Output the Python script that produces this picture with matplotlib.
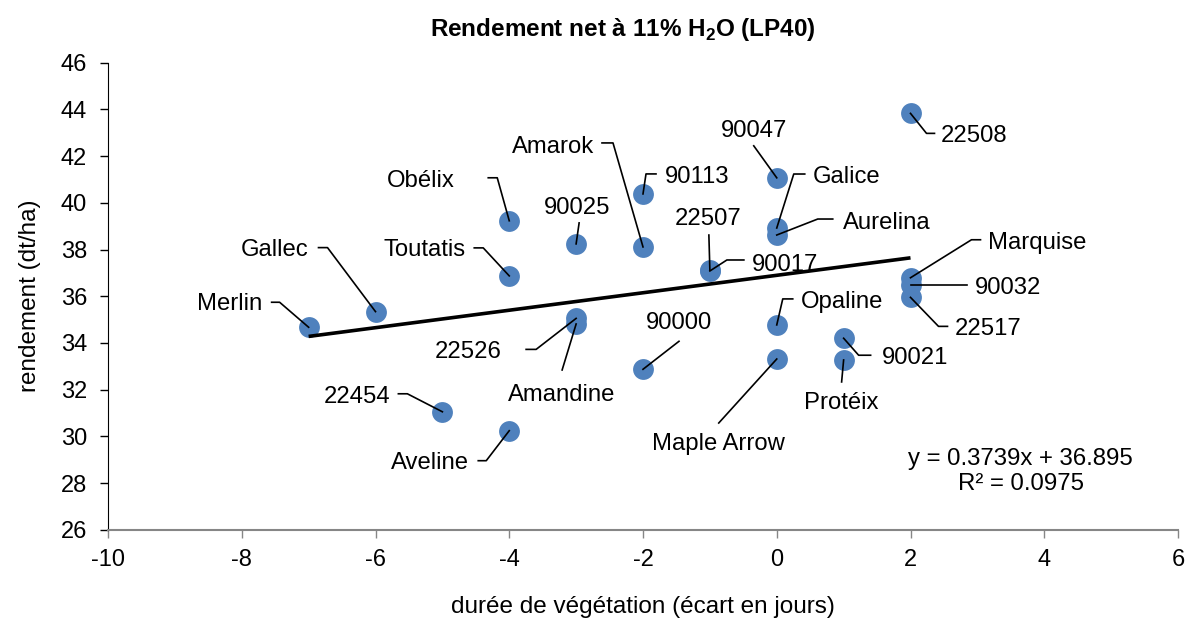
import numpy as np
import matplotlib
matplotlib.use("Agg")
import matplotlib.pyplot as plt

plt.rcParams['font.family'] = ['Liberation Sans', 'DejaVu Sans']
plt.rcParams['mathtext.fontset'] = 'custom'
plt.rcParams['mathtext.rm'] = 'Liberation Sans'
plt.rcParams['mathtext.bf'] = 'Liberation Sans:bold'

## Data

noms = ["Merlin", "Gallec", "22454", "Obélix", "Toutatis", "Aveline", "90025",
        "22526", "Amandine", "Amarok", "90113", "90000", "22507", "90017",
        "90047", "Galice", "Aurelina", "Opaline", "Maple Arrow", "90021",
        "Protéix", "22508", "Marquise", "90032", "22517"]
duree = [-7, -6, -5, -4, -4, -4, -3, -3, -3, -2, -2, -2, -1, -1,
         0, 0, 0, 0, 0, 1, 1, 2, 2, 2, 2]
rendement = [34.67, 35.34, 31.05, 39.23, 36.87, 30.24, 38.24, 35.05, 34.81,
             38.11, 40.38, 32.87, 37.12, 37.08, 41.07, 38.92, 38.62, 34.77,
             33.31, 34.20, 33.27, 43.83, 36.79, 36.48, 35.95]

# linear trendline (from chart equation)
pente = 0.3739
ordonnee = 36.895
r2 = 0.0975

x_ticks = np.arange(-10, 7, 2)
y_ticks = np.arange(26, 47, 2)

## Label placement (pixel offsets from each point: text, then leader vertices)

labels_pos = {
    "Merlin":      ((-46, 25), "right",  [(-29, 25), (-37, 25)]),
    "Gallec":      ((-67, 64), "right",  [(-48, 64), (-57, 64)]),
    "22454":       ((-52, 17), "right",  [(-35, 18), (-44, 18)]),
    "Obélix":      ((-55, 42), "right",  [(-12, 43), (-21, 43)]),
    "Toutatis":    ((-44, 28), "right",  [(-26, 28), (-35, 28)]),
    "Aveline":     ((-40, -30), "right", [(-23, -30), (-31, -30)]),
    "90025":       ((1, 38), "center",   [(3, 21)]),
    "22526":       ((-74, -32), "right", [(-40, -31), (-50, -31)]),
    "Amandine":    ((-14, -69), "center", [(-14, -46)]),
    "Amarok":      ((-49, 102), "right", [(-30, 104), (-41, 104)]),
    "90113":       ((22, 19), "left",    [(3, 20), (13, 20)]),
    "90000":       ((36, 48), "center",  [(36, 28)]),
    "22507":       ((-2, 53), "center",  [(-1, 35)]),
    "90017":       ((42, 8), "left",     [(17, 11), (34, 11)]),
    "90047":       ((-23, 49), "center", [(-23, 32)]),
    "Galice":      ((36, 53), "left",    [(17, 54), (28, 54)]),
    "Aurelina":    ((66, 14), "left",    [(41, 16), (56, 16)]),
    "Opaline":     ((24, 25), "left",    [(6, 26), (16, 26)]),
    "Maple Arrow": ((-58, -83), "center", [(-58, -64)]),
    "90021":       ((38, -18), "left",   [(15, -17), (27, -17)]),
    "Protéix":     ((-2, -41), "center", [(-2, -22)]),
    "22508":       ((30, -21), "left",   [(16, -20), (24, -20)]),
    "Marquise":    ((78, 37), "left",    [(61, 38), (70, 38)]),
    "90032":       ((64, -1), "left",    [(56, 0)]),
    "22517":       ((44, -30), "left",   [(28, -29), (37, -29)]),
}
text_shift = -2  # va="center" sits a little high compared to the original

## Plot

fig = plt.figure(figsize=(11.89, 6.19), dpi=100)
ax = fig.add_axes([108 / 1189, 1 - 529.7 / 619, 1070 / 1189, 467 / 619])
ax.set_xlim(-10, 6)
ax.set_ylim(26, 46)

ax.scatter(duree, rendement, s=225, color="#4F81BD", linewidths=0, zorder=2)

xt = np.array([min(duree), max(duree)])
ax.plot(xt, pente * xt + ordonnee, color="black", lw=2.6, zorder=3,
        solid_capstyle="butt")

to_disp = ax.transData.transform
to_data = ax.transData.inverted().transform
for nom, x, y in zip(noms, duree, rendement):
    (tdx, tdy), ha, verts = labels_pos[nom]
    px, py = to_disp((x, y))
    pts = [(px, py)] + [(px + dx, py + dy) for dx, dy in verts]
    pts = to_data(np.array(pts))
    ax.plot(pts[:, 0], pts[:, 1], color="black", lw=1.2, zorder=4)
    ax.annotate(nom, xy=(x, y), xytext=(tdx, tdy + text_shift),
                textcoords="offset pixels",
                ha=ha, va="center", fontsize=17.2, zorder=5)

ax.text(0.853, 0.125, "y = {}x + {}\nR² = {}".format(pente, ordonnee, r2),
        transform=ax.transAxes, ha="center", va="center",
        multialignment="center", fontsize=17.3, linespacing=1.15)

ax.set_xticks(x_ticks)
ax.set_yticks(y_ticks)
ax.set_xticklabels([str(v) for v in x_ticks])
ax.set_yticklabels([str(v) for v in y_ticks])
ax.tick_params(axis="both", labelsize=17, direction="out", length=6, width=1)
ax.tick_params(axis="x", colors="#868686", labelcolor="black", pad=8)
ax.tick_params(axis="y", colors="black", labelcolor="black", pad=9)

for side in ["top", "right"]:
    ax.spines[side].set_visible(False)
ax.spines["bottom"].set_color("#868686")
ax.spines["bottom"].set_linewidth(1.5)
ax.spines["left"].set_color("black")

ax.set_xlabel("durée de végétation (écart en jours)", fontsize=17.5, labelpad=18)
ax.set_ylabel("rendement (dt/ha)", fontsize=17.5, labelpad=14)
ax.set_title(r"Rendement net à 11% H$_\mathbf{2}$O (LP40)", fontsize=17.5,
             fontweight="bold", pad=19, x=0.481)

fig.savefig("out.png", dpi=100)
